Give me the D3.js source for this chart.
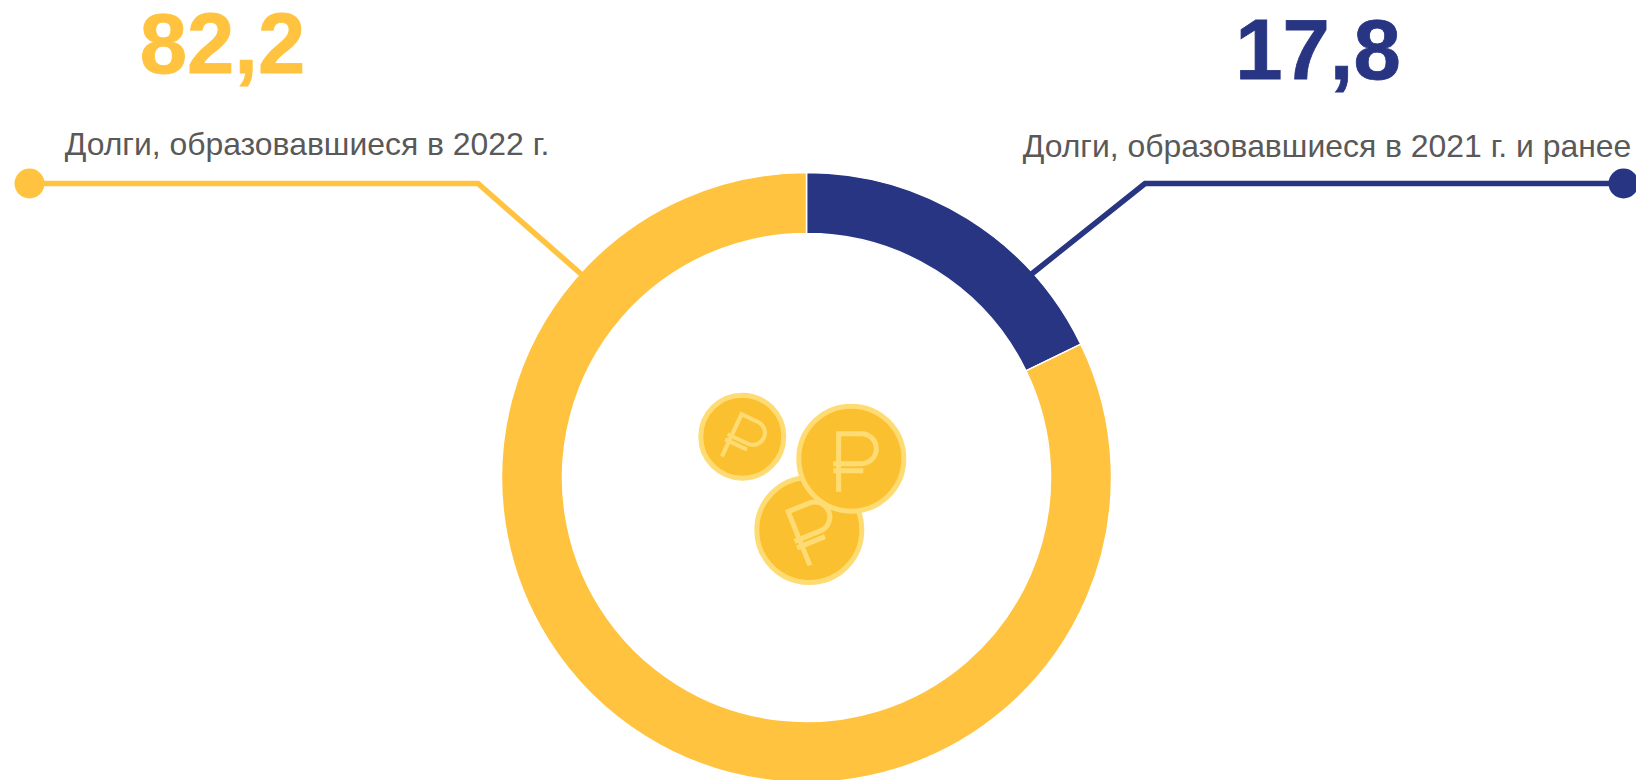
<!DOCTYPE html>
<html><head><meta charset="utf-8">
<script src="https://cdn.jsdelivr.net/npm/d3@7"></script>
<style>html,body{margin:0;padding:0;background:#fff;overflow:hidden}svg{display:block}text{font-family:"Liberation Sans",Arial,sans-serif}</style>
</head><body><div id="c"></div>
<script>
const categories = ["Долги, образовавшиеся в 2021 г. и ранее", "Долги, образовавшиеся в 2022 г."];
const values = [17.8, 82.2];
const valueLabels = ["17,8", "82,2"];
const colors = ["#283583", "#FFC33F"];
const W = 1636, H = 780, cx = 806.5, cy = 477.5, R = 305, r = 244;
const svg = d3.select("#c").append("svg").attr("width", W).attr("height", H).attr("viewBox", [0,0,W,H]);

const pie = d3.pie().sort(null)(values);
const arc = d3.arc().innerRadius(r).outerRadius(R);
svg.append("g").attr("transform", `translate(${cx},${cy})`).selectAll("path").data(pie).join("path")
  .attr("d", arc).attr("fill", (d,i)=>colors[i]).attr("stroke", "#fff").attr("stroke-width", 1.5);

// leader layout, one entry per category
const layout = [
  {num:[1318,78.5], lab:[1327,156.5], pts:[[1623.5,183.5],[1145,183.5],[1031,274.5]]},
  {num:[222.5,73], lab:[307,155], pts:[[29.5,183.5],[478,183.5],[581,274]]}
];
const line = d3.line();
layout.forEach((l,i)=>{
  svg.append("path").attr("d", line(l.pts)).attr("fill","none").attr("stroke",colors[i]).attr("stroke-width",5.5);
  svg.append("circle").attr("cx",l.pts[0][0]).attr("cy",l.pts[0][1]).attr("r",15).attr("fill",colors[i]);
  svg.append("text").attr("x",l.num[0]).attr("y",l.num[1]).attr("text-anchor","middle")
    .attr("font-size",85).attr("font-weight",700).attr("fill",colors[i])
    .attr("stroke",colors[i]).attr("stroke-width",0.8).text(valueLabels[i]);
  svg.append("text").attr("x",l.lab[0]).attr("y",l.lab[1]).attr("text-anchor","middle")
    .attr("font-size",31.9).attr("fill","#595959").text(categories[i]);
});

// decorative coins
const coins = [
  {x:809.3,y:530,rad:52.5,rot:-22,s:1},
  {x:851.3,y:458.7,rad:52.5,rot:0,s:1},
  {x:742.3,y:436.7,rad:41.5,rot:25,s:0.8}
];
const rubleGlyph = "M-12.7,33V-25H10A15,15 0 0 1 10,5H-18M-18,12H12";
const g = svg.append("g").selectAll("g").data(coins).join("g")
  .attr("transform", d=>`translate(${d.x},${d.y})`);
g.append("circle").attr("r", d=>d.rad).attr("fill","#FBC02F").attr("stroke","#FFDC73").attr("stroke-width",5);
g.append("path").attr("d",rubleGlyph).attr("fill","none").attr("stroke","#FFDC73").attr("stroke-width",5)
  .attr("transform", d=>`rotate(${d.rot}) scale(${d.s})`);
</script></body></html>
